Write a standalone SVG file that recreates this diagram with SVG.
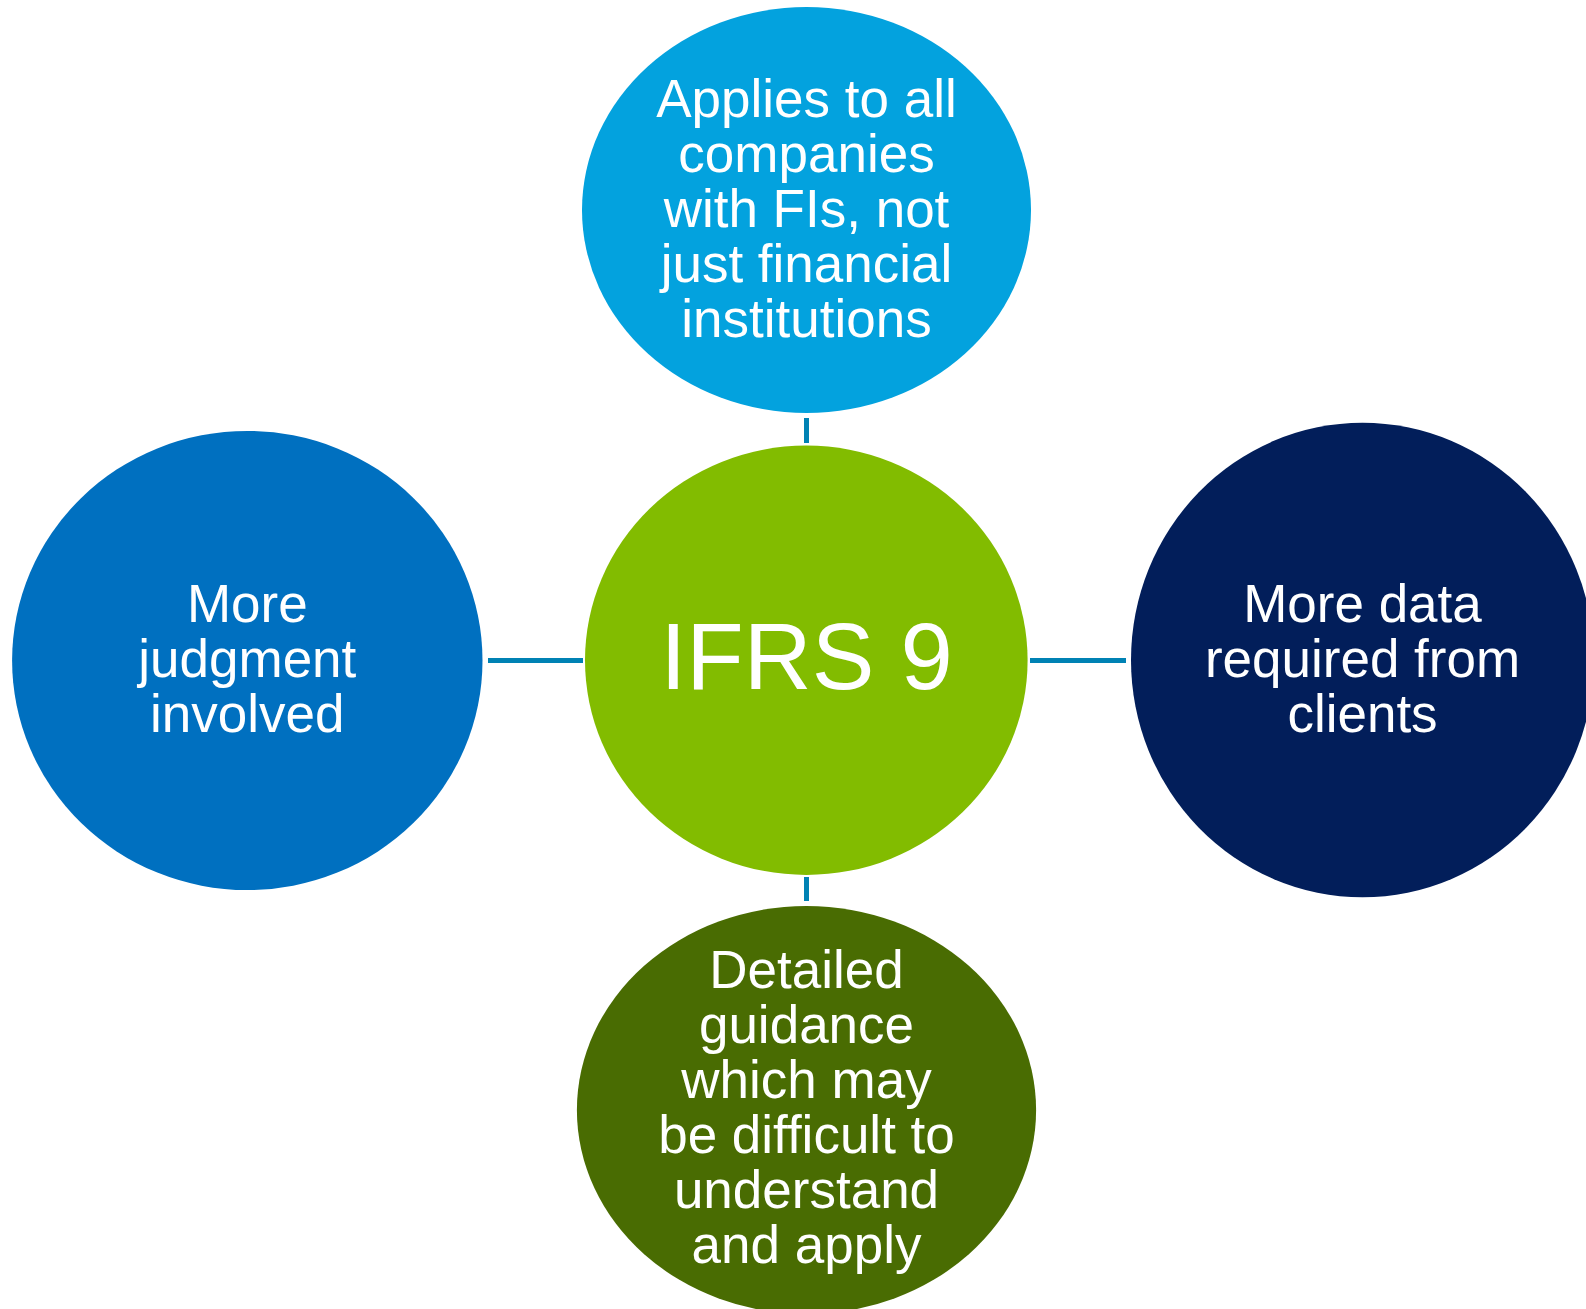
<svg xmlns="http://www.w3.org/2000/svg" width="1586" height="1309" viewBox="0 0 1586 1309">
  <style>
    .lbl { font-family: "Liberation Sans", Arial, sans-serif; font-size: 53px; fill: #ffffff; text-anchor: middle; }
    .hub { font-family: "Liberation Sans", Arial, sans-serif; font-size: 94px; fill: #ffffff; text-anchor: middle; }
    .link { stroke: #0082B4; stroke-width: 5; fill: none; }
  </style>
  <rect width="1586" height="1309" fill="#ffffff"/>

  <!-- spokes between the hub and the four satellites -->
  <g id="connectors">
    <line class="link" x1="806.5" y1="418" x2="806.5" y2="443"/>
    <line class="link" x1="806.5" y1="877" x2="806.5" y2="901"/>
    <line class="link" x1="488" y1="660.5" x2="583" y2="660.5"/>
    <line class="link" x1="1030" y1="660.5" x2="1126" y2="660.5"/>
  </g>

  <g id="node-top">
    <ellipse cx="806.5" cy="210" rx="224.5" ry="203" fill="#03A2DE"/>
    <text class="lbl" x="806.5" y="116.7">Applies to all</text>
    <text class="lbl" x="806.5" y="171.7">companies</text>
    <text class="lbl" x="806.5" y="226.7">with FIs, not</text>
    <text class="lbl" x="806.5" y="281.7">just financial</text>
    <text class="lbl" x="806.5" y="336.7">institutions</text>
  </g>

  <g id="node-left">
    <ellipse cx="247.3" cy="660.5" rx="235.2" ry="229.6" fill="#0070C0"/>
    <text class="lbl" x="247.3" y="621.7">More</text>
    <text class="lbl" x="247.3" y="676.7">judgment</text>
    <text class="lbl" x="247.3" y="731.7">involved</text>
  </g>

  <g id="node-right">
    <ellipse cx="1362.5" cy="660" rx="231.5" ry="237.2" fill="#021E5A"/>
    <text class="lbl" x="1362.5" y="621.7">More data</text>
    <text class="lbl" x="1362.5" y="676.7">required from</text>
    <text class="lbl" x="1362.5" y="731.7">clients</text>
  </g>

  <g id="node-center">
    <ellipse cx="806.3" cy="660.3" rx="221.3" ry="214.7" fill="#82BC00"/>
    <text class="hub" x="806.5" y="689.3">IFRS 9</text>
  </g>

  <g id="node-bottom">
    <ellipse cx="806.5" cy="1110" rx="229.6" ry="204" fill="#496C02"/>
    <text class="lbl" x="806.5" y="988.3">Detailed</text>
    <text class="lbl" x="806.5" y="1043.3">guidance</text>
    <text class="lbl" x="806.5" y="1098.3">which may</text>
    <text class="lbl" x="806.5" y="1153.3">be difficult to</text>
    <text class="lbl" x="806.5" y="1208.3">understand</text>
    <text class="lbl" x="806.5" y="1263.3">and apply</text>
  </g>
</svg>
